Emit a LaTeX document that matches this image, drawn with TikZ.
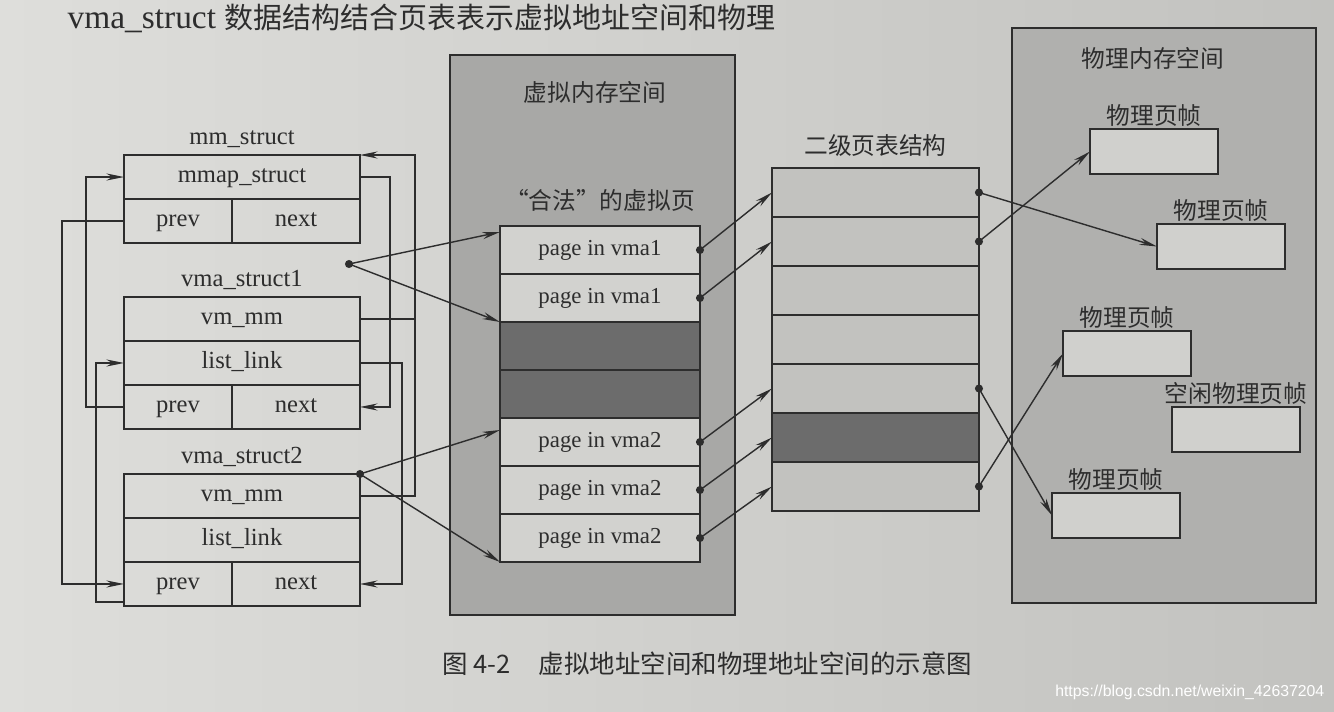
\documentclass[tikz,border=0pt]{standalone}
\usepackage{fontspec}
\setmainfont{Liberation Serif}
\newfontfamily\cjk{Noto Sans CJK SC}
\newfontfamily\wmfont{Liberation Sans}
\usetikzlibrary{arrows.meta,positioning}
\definecolor{ink}{RGB}{45,45,45}
\definecolor{paperlight}{RGB}{222,222,219}
\definecolor{paperdark}{RGB}{194,194,191}
\definecolor{vgray}{RGB}{168,168,166}
\definecolor{pgray}{RGB}{176,176,174}
\definecolor{pagelight}{RGB}{210,210,207}
\definecolor{pagedark}{RGB}{108,108,108}
\definecolor{ptgray}{RGB}{194,194,191}
\definecolor{framegray}{RGB}{208,208,205}
\tikzset{
  cell/.style={draw, inner sep=0pt, outer sep=0pt, anchor=north west, minimum height=0.88cm, text height=9.5pt, text depth=3pt, font=\fontsize{14}{16}\selectfont},
  ttl/.style={inner sep=1pt, font=\fontsize{14}{16}\selectfont},
  pg/.style={draw, fill=pagelight, inner sep=0pt, outer sep=0pt, anchor=north west, minimum width=4cm, minimum height=0.96cm, text height=9pt, text depth=3pt, font=\fontsize{13}{15}\selectfont},
  dk/.style={pg, fill=pagedark},
  ptrow/.style={draw, inner sep=0pt, outer sep=0pt, anchor=north west, minimum width=4.14cm, minimum height=0.98cm},
  memspace/.style={draw, inner sep=0pt, outer sep=0pt, anchor=north west},
  pframe/.style={draw, fill=framegray, inner sep=0pt, outer sep=0pt, anchor=north west, minimum width=2.56cm, minimum height=0.9cm, label distance=2pt},
  lbl/.style={inner sep=1pt, font=\cjk\fontsize{13.5}{15}\selectfont},
  dot/.style={circle, fill=ink, inner sep=0pt, minimum size=4.6pt},
}
\begin{document}
\begin{tikzpicture}[x=0.02cm, y=-0.02cm, >={Stealth[length=10pt,width=4pt]}, line width=0.8pt, color=ink]
    \useasboundingbox (0,0) rectangle (1334,711);
    \shade[left color=paperlight, right color=paperdark] (0,0) rectangle (1334,711);
    \node[anchor=base west, inner sep=0pt, font=\fontsize{19}{21}\selectfont] (head) at (67,28)
        {vma\_struct {\cjk\fontsize{16.5}{18}\selectfont 数据结构结合页表表示虚拟地址空间和物理}};
    % mm_struct and the two vma_structs
    \node[cell, minimum width=4.72cm] (mmap) at (124,155) {mmap\_struct};
    \node[cell, minimum width=2.16cm] (mmpv) at (mmap.south west) {prev};
    \node[cell, minimum width=2.56cm] (mmnx) at (mmpv.north east) {next};
    \node[ttl, above=3pt of mmap] {mm\_struct};
    \foreach \s/\y/\n in {v1/297/1, v2/474/2}
        {
            \node[cell, minimum width=4.72cm] (\s mm) at (124,\y) {vm\_mm};
            \node[cell, minimum width=4.72cm] (\s ll) at (\s mm.south west) {list\_link};
            \node[cell, minimum width=2.16cm] (\s pv) at (\s ll.south west) {prev};
            \node[cell, minimum width=2.56cm] (\s nx) at (\s pv.north east) {next};
            \node[ttl, above=3pt of \s mm] {vma\_struct\n};
        }
    \draw[->] (v2mm.east) -| ([xshift=1.1cm]mmap.north east) -- (mmap.north east);
    \draw (v1mm.east) -- ++(1.1cm,0);
    \draw[->] (mmap.east) -| ([xshift=0.6cm]v1nx.east) -- (v1nx.east);
    \draw[->] (v1ll.east) -| ([xshift=0.84cm]v2nx.east) -- (v2nx.east);
    \draw[->] (v1pv.west) -- ++(-0.76cm,0) |- (mmap.west);
    \draw[->] (mmpv.west) -- ++(-1.24cm,0) |- (v2pv.west);
    \draw[->] ([yshift=-0.36cm]v2pv.west) -- ++(-0.56cm,0) |- (v1ll.west);
    % virtual memory
    \node[memspace, fill=vgray, minimum width=5.7cm, minimum height=11.2cm] (vspace) at (450,55) {};
    \node[lbl] (vtitle) at (595,92) {虚拟内存空间};
    \foreach \i/\txt/\st in {1/page in vma1/pg, 2/page in vma1/pg, 3//dk, 4//dk, 5/page in vma2/pg, 6/page in vma2/pg, 7/page in vma2/pg}
        {\node[\st] (p\i) at (500,{226+48*(\i-1)}) {\txt};}
    \node[lbl, above=7pt of p1] (legal) {“合法”的虚拟页};
    % page table
    \foreach \i/\col in {1/ptgray, 2/ptgray, 3/ptgray, 4/ptgray, 5/ptgray, 6/pagedark, 7/ptgray}
        {\node[ptrow, fill=\col] (t\i) at (772,{168+49*(\i-1)}) {};}
    \node[lbl, above=5pt of t1] (pttitle) {二级页表结构};
    % physical memory
    \node[memspace, fill=pgray, minimum width=6.08cm, minimum height=11.5cm] (pspace) at (1012,28) {};
    \node[lbl] (ptitle) at (1153,58) {物理内存空间};
    \foreach \nm/\x/\y/\txt in {f1/1090/129/物理页帧, f2/1157/224/物理页帧, f3/1063/331/物理页帧, f0/1172/407/空闲物理页帧, f4/1052/493/物理页帧}
        {\node[pframe, label={[lbl]above:\txt}] (\nm) at (\x,\y) {};}
    % pointers
    \node[dot] (v1ptr) at (349,264) {};
    \draw[->] (v1ptr.center) -- ([yshift=-0.12cm]p1.north west);
    \draw[->] (v1ptr.center) -- (p2.south west);
    \fill (v2mm.north east) circle (2.3pt);
    \draw[->] (v2mm.north east) -- ([yshift=-0.24cm]p5.north west);
    \draw[->] (v2mm.north east) -- (p7.south west);
    \foreach \na in {1,2,5,6,7}
        {
            \fill (p\na.east) circle (2.3pt);
            \draw[->] (p\na.east) -- (t\na.west);
        }
    \foreach \na/\nb in {1/f2, 2/f1, 5/f4, 7/f3}
        {
            \fill (t\na.east) circle (2.3pt);
            \draw[->] (t\na.east) -- (\nb.west);
        }
    \node[anchor=west, font=\cjk\fontsize{14.5}{16}\selectfont] (cap) at (436,664) {图 4-2\hspace{1.1em}虚拟地址空间和物理地址空间的示意图};
    \node[anchor=base east, inner sep=0pt, font=\wmfont\fontsize{9}{11}\selectfont, text=white] (wm) at (1325,696) {https://blog.csdn.net/weixin\_42637204};
\end{tikzpicture}
\end{document}
